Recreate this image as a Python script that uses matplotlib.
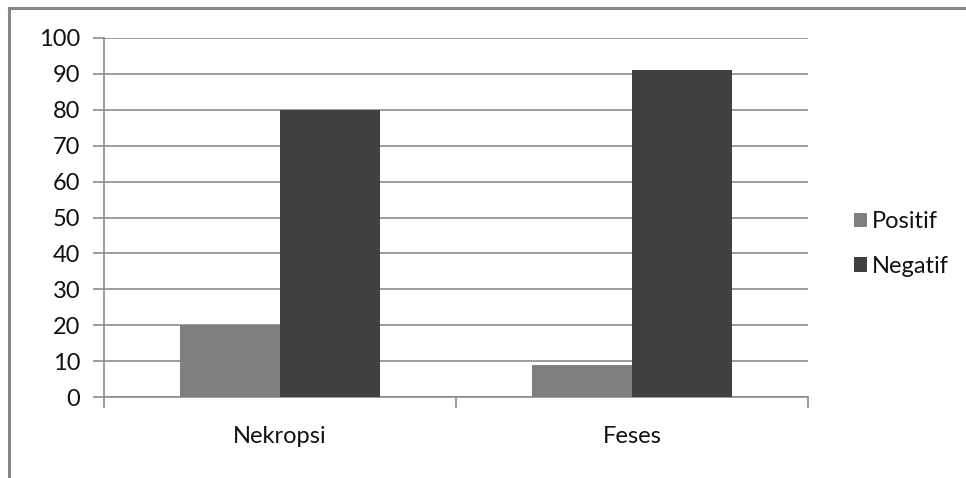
import matplotlib
matplotlib.use("Agg")
import matplotlib.pyplot as plt
from matplotlib.lines import Line2D
from matplotlib.patches import Patch
import numpy as np

plt.rcParams['font.family'] = ['Lato', 'DejaVu Sans']

categories = ["Nekropsi", "Feses"]
series_names = ["Positif", "Negatif"]
positif = [20, 8.9]
negatif = [80, 91.1]
y_ticks = [0, 10, 20, 30, 40, 50, 60, 70, 80, 90, 100]

colors = ["#7f7f7f", "#404040"]
axis_color = "#8c8c8c"
text_color = "#111111"
fs = 17

W, H = 966, 478
fig = plt.figure(figsize=(W / 100, H / 100), dpi=100)
ax = fig.add_axes([104 / W, 1 - 397 / H, (808 - 104) / W, (397 - 38) / H])

x = np.arange(len(categories))
bw = 0.284
ax.bar(x - bw / 2, positif, bw, color=colors[0], label=series_names[0], zorder=3)
ax.bar(x + bw / 2, negatif, bw, color=colors[1], label=series_names[1], zorder=3)

ax.set_xlim(-0.5, len(categories) - 0.5)
ax.set_ylim(0, 100)
ax.set_yticks(y_ticks)
ax.set_yticklabels([str(t) for t in y_ticks], fontsize=fs, color=text_color)
ax.yaxis.grid(True, color=axis_color, linewidth=1.2, zorder=0)
ax.set_axisbelow(True)

# category labels centred between boundary ticks
ax.set_xticks(np.arange(-0.5, len(categories)), minor=False)
ax.set_xticklabels([])
ax.set_xticks(x, minor=True)
ax.set_xticklabels(categories, minor=True, fontsize=fs, color=text_color)
ax.tick_params(axis='x', which='minor', length=0, pad=21)
ax.tick_params(axis='x', which='major', length=8, color=axis_color, width=1.2, direction='out')
ax.tick_params(axis='y', length=8, color=axis_color, width=1.2, direction='out', pad=9)

for s in ["top", "right"]:
    ax.spines[s].set_visible(False)
for s in ["left", "bottom"]:
    ax.spines[s].set_color(axis_color)
    ax.spines[s].set_linewidth(1.2)

handles = [Patch(facecolor=c, edgecolor='none') for c in colors]
fig.legend(handles, series_names, loc='center left', bbox_to_anchor=(833 / W, 1 - 244 / H),
           frameon=False, fontsize=fs, handlelength=0.55, handleheight=0.55,
           handletextpad=0.2, labelspacing=1.0, labelcolor=text_color)

# outer chart frame (top and left edges)
fig.add_artist(Line2D([9 / W, 1.0], [1 - 8 / H, 1 - 8 / H], color="#878787", linewidth=2.2,
                      transform=fig.transFigure))
fig.add_artist(Line2D([9 / W, 9 / W], [0.0, 1 - 8 / H], color="#878787", linewidth=2.2,
                      transform=fig.transFigure))

fig.savefig("out.png", dpi=100)
